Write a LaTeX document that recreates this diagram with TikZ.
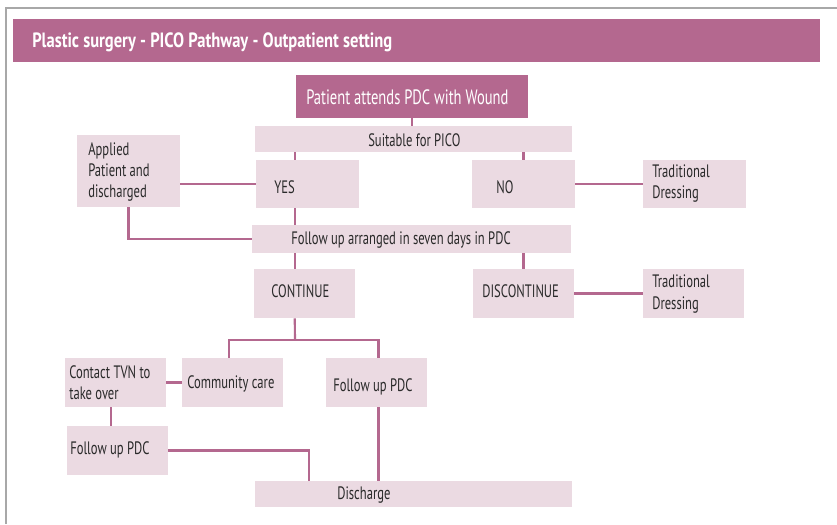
\documentclass[tikz,border=0pt]{standalone}
\usepackage{fontspec}
\setmainfont{PT Sans}[FakeStretch=0.7]
\newfontfamily\headfont{PT Sans}[FakeStretch=0.8]
\definecolor{dark}{HTML}{B4688F}
\definecolor{light}{HTML}{EBDAE2}
\definecolor{ink}{HTML}{2A2A2A}
\definecolor{frame}{HTML}{A8A8A8}
\tikzset{
  box/.style={draw=none, fill=light, inner sep=0pt, rectangle},
  darkbox/.style={draw=none, fill=dark, inner sep=0pt, rectangle},
  txt/.style={anchor=west, inner sep=0pt, text=ink, align=left, font=\fontsize{13.5}{15.8}\selectfont},
  wtxt/.style={anchor=west, inner sep=0pt, text=white, font=\fontsize{15.6}{18}\selectfont},
  htxt/.style={anchor=west, inner sep=0pt, text=white, font=\headfont\bfseries\fontsize{15.5}{18}\selectfont},
  conn/.style={draw=dark, line width=1.6pt}
}
\begin{document}
\begin{tikzpicture}[x=0.75pt,y=-0.75pt]
\useasboundingbox (0,0) rectangle (837,524);
\fill[white] (0,0) rectangle (837,524);
\draw[frame, line width=1.1pt] (6,524) -- (6,8) -- (837,8);

% header
\node[darkbox, minimum width=605.25pt, minimum height=32.25pt] (header) at (416.5,40.5) {};
\node[htxt] (t-header) at (32,42) {Plastic surgery - PICO Pathway - Outpatient setting};

% boxes
\node[darkbox, minimum width=174pt, minimum height=32.25pt] (patient) at (412,96.5) {};
\node[box, minimum width=237.75pt, minimum height=19.5pt] (suit) at (413.5,139) {};
\node[box, minimum width=77.25pt, minimum height=36pt] (yes) at (307.5,184) {};
\node[box, minimum width=77.25pt, minimum height=36pt] (no) at (523.5,184) {};
\node[box, minimum width=77.25pt, minimum height=36pt] (td1) at (694.5,184) {};
\node[box, minimum width=77.25pt, minimum height=54pt] (applied) at (128.5,171) {};
\node[box, minimum width=239.25pt, minimum height=21pt] (follow) at (411.5,239) {};
\node[box, minimum width=75.75pt, minimum height=36.75pt] (cont) at (304.5,293.5) {};
\node[box, minimum width=75.75pt, minimum height=36.75pt] (disc) at (523.5,293.5) {};
\node[box, minimum width=75.75pt, minimum height=36.75pt] (td2) at (693.5,293.5) {};
\node[box, minimum width=75.75pt, minimum height=36.75pt] (comm) at (232.5,382.5) {};
\node[box, minimum width=75.75pt, minimum height=36.75pt] (fpdc2) at (376.5,382.5) {};
\node[box, minimum width=75.75pt, minimum height=36.75pt] (tvn) at (115.5,382.5) {};
\node[box, minimum width=75.75pt, minimum height=36.75pt] (fpdc1) at (117.5,450.5) {};
\node[box, minimum width=237.75pt, minimum height=19.5pt] (dis) at (413.5,494) {};

% texts
\node[wtxt] (t-patient) at (306,97) {Patient attends PDC with Wound};
\node[txt] (t-suit) at (368,140) {Suitable for PICO};
\node[txt] (t-yes) at (274,187) {YES};
\node[txt] (t-no) at (496,187) {NO};
\node[txt] (t-td1) at (652,184) {Traditional\\Dressing};
\node[txt] (t-applied) at (88,172) {Applied\\Patient and\\discharged};
\node[txt] (t-follow) at (291,240) {Follow up arranged in seven days in PDC};
\node[txt] (t-cont) at (271,291) {CONTINUE};
\node[txt] (t-disc) at (482,291) {DISCONTINUE};
\node[txt] (t-td2) at (652,294) {Traditional\\Dressing};
\node[txt] (t-comm) at (187,384) {Community care};
\node[txt] (t-fpdc2) at (333,387) {Follow up PDC};
\node[txt] (t-tvn) at (69,383) {Contact TVN to\\take over};
\node[txt] (t-fpdc1) at (70,450) {Follow up PDC};
\node[txt] (t-dis) at (337,495) {Discharge};

% connectors
\coordinate (split) at (295,340);
\draw[conn] (patient.south) -- (patient.south |- suit.north);
\draw[conn] ([xshift=29.25pt]yes.north west) -- ([xshift=29.25pt]yes.north west |- suit.south);
\draw[conn] (no.north) -- (no.north |- suit.south);
\draw[conn] (no.east) -- (no.east -| td1.west);
\draw[conn] (yes.west) -- (yes.west -| applied.east);
\draw[conn] ([xshift=29.25pt]yes.south west) -- ([xshift=29.25pt]yes.south west |- follow.north);
\draw[conn] (applied.south) |- (follow.west);
\draw[conn] ([xshift=30.75pt]cont.north west) -- ([xshift=30.75pt]cont.north west |- follow.south);
\draw[conn] (disc.north) -- (disc.north |- follow.south);
\draw[conn] (disc.east) -- (disc.east -| td2.west);
\draw[conn] ([xshift=30.75pt]cont.south west) -- (split);
\draw[conn] ([xshift=35.25pt]comm.north west) |- (split) -| ([xshift=1.5pt]fpdc2.north);
\draw[conn] (comm.west) -- (comm.west -| tvn.east);
\draw[conn] ([xshift=34.5pt]tvn.south west) -- ([xshift=34.5pt]tvn.south west |- fpdc1.north);
\draw[conn] (fpdc1.east) -| ([xshift=40.5pt]dis.north west);
\draw[conn] ([xshift=1.5pt]fpdc2.south) -- ([xshift=1.5pt]fpdc2.south |- dis.north);
\end{tikzpicture}
\end{document}
